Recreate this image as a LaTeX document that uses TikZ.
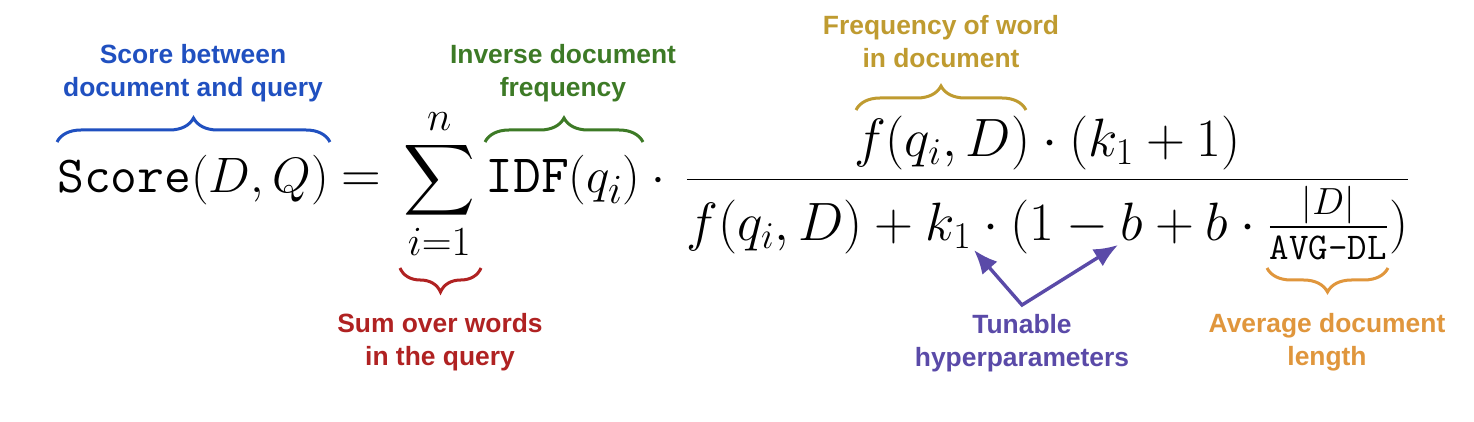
\RequirePackage{fix-cm}
\documentclass[tikz,border=0pt]{standalone}
\usepackage{amsmath}
\usepackage{fontspec}
\newfontfamily\labelfont{Liberation Sans}
\usetikzlibrary{decorations.pathreplacing,arrows.meta}
\definecolor{cblue}{HTML}{2050C0}
\definecolor{cgreen}{HTML}{3D7A26}
\definecolor{cgold}{HTML}{BF9B30}
\definecolor{cred}{HTML}{B02222}
\definecolor{cpurple}{HTML}{5A4AA8}
\definecolor{corange}{HTML}{E0963C}
\tikzset{
  lbl/.style={font=\labelfont\bfseries\fontsize{13.2}{16.5}\selectfont, align=center, inner sep=0pt},
  mathpart/.style={anchor=base west, inner sep=0pt},
  topbrace/.style={decorate, decoration={brace, amplitude=12pt}, line width=1.5pt},
  botbrace/.style={decorate, decoration={brace, amplitude=12pt, mirror}, line width=1.5pt},
  hyparrow/.style={line width=1.7pt, cpurple, {Latex[length=12pt,width=10pt]}-{Latex[length=12pt,width=10pt]}, line join=miter}
}
\begin{document}
\begin{tikzpicture}[x=0.5pt,y=-0.5pt]
\useasboundingbox (0,0) rectangle (1474,422);
\fill[white] (0,0) rectangle (1474,422);
% formula, piece by piece on one baseline
\node[mathpart] (lhs) at (57,193)
  {{\fontsize{26}{30}\selectfont$\mathtt{Score}$}{\fontsize{24.88}{30}\selectfont$(D,Q)$}};
\node[mathpart] (eq) at (341,193)
  {\fontsize{27.5}{30}\selectfont$=$};
\node[mathpart] (sum) at (403,193)
  {\fontsize{24.88}{30}\selectfont$\displaystyle\sum_{i=1}^{n}$};
\node[mathpart] (idf) at (485,193)
  {{\fontsize{27}{30}\selectfont$\mathtt{IDF}$}{\fontsize{24.88}{30}\selectfont$(q_i)\cdot{}$}};
\node[mathpart] (frac) at (684,193)
  {\fontsize{27}{32}\selectfont$\displaystyle\frac{f(q_i,D)\cdot(k_1+1)}{f(q_i,D)+k_1\cdot(1-b+b\cdot\frac{|D|}{\text{\ttfamily AVG-DL}})}$};
% brace end points
\coordinate (sL) at (57,142);  \coordinate (sR) at (330,142);
\coordinate (iL) at (485,142); \coordinate (iR) at (643,142);
\coordinate (fL) at (856,110); \coordinate (fR) at (1026,110);
\coordinate (qL) at (400,268); \coordinate (qR) at (481,268);
\coordinate (aL) at (1267,268); \coordinate (aR) at (1388,268);
% braces
\draw[topbrace, cblue] (sL) -- (sR);
\draw[topbrace, cgreen] (iL) -- (iR);
\draw[topbrace, cgold] (fL) -- (fR);
\draw[botbrace, cred] (qL) -- (qR);
\draw[botbrace, corange] (aL) -- (aR);
% labels
\node[lbl, text=cblue] (lscore) at (193,73) {Score between\\document and query};
\node[lbl, text=cgreen] (lidf) at (563,73) {Inverse document\\frequency};
\node[lbl, text=cgold] (lfreq) at (941,42) {Frequency of word\\in document};
\node[lbl, text=cred] (lsum) at (440,342) {Sum over words\\in the query};
\node[lbl, text=cpurple] (ltune) at (1022,343) {Tunable\\hyperparameters};
\node[lbl, text=corange] (lavg) at (1327,342) {Average document\\length};
% arrows
\coordinate (vtx) at (1022,305);
\coordinate (ktip) at (974,250);
\coordinate (btip) at (1118,245);
\draw[hyparrow] (ktip) -- (vtx) -- (btip);
\end{tikzpicture}
\end{document}
